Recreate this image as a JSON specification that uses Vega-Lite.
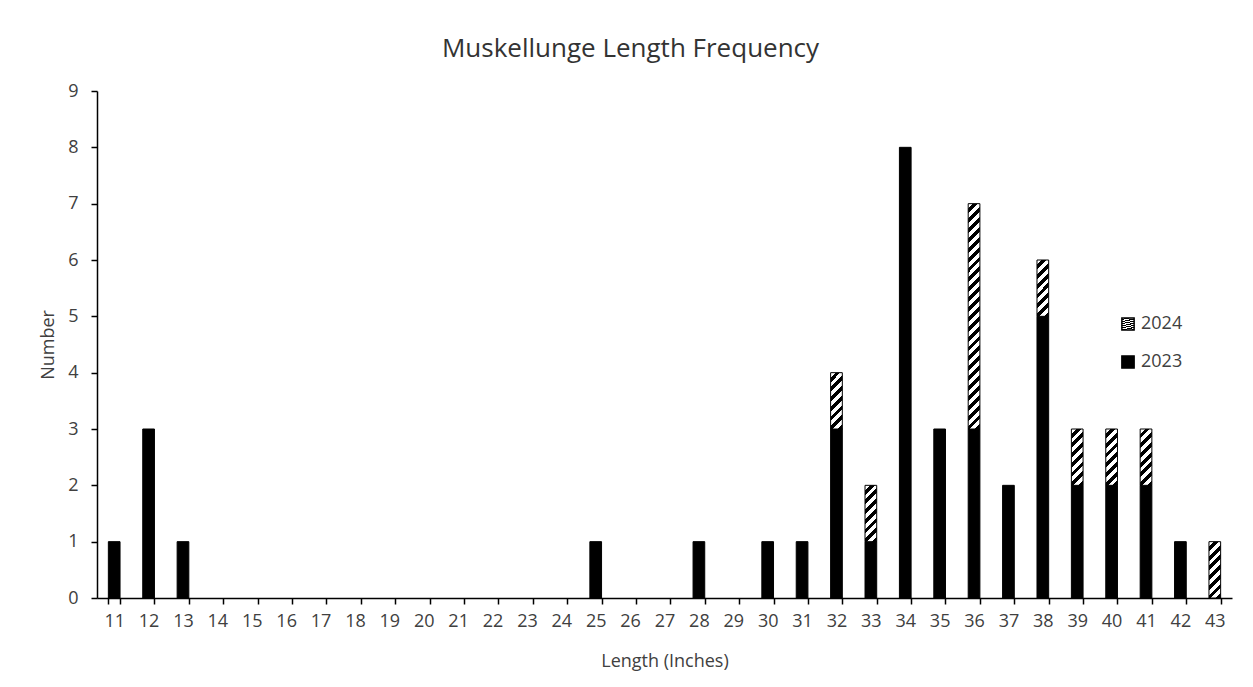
{
  "$schema": "https://vega.github.io/schema/vega-lite/v6.json",
  "autosize": {"type": "none"},
  "width": 1135,
  "height": 507,
  "padding": {"left": 97, "top": 91, "right": 21, "bottom": 89},
  "background": "white",
  "title": {"text": "Muskellunge Length Frequency", "fontSize": 26, "fontWeight": "normal", "color": "#333333", "anchor": "middle", "dx": -34, "offset": 20},
  "data": {
    "values": [
      {"length": 11, "year": "2023", "count": 1},
      {"length": 12, "year": "2023", "count": 3},
      {"length": 13, "year": "2023", "count": 1},
      {"length": 25, "year": "2023", "count": 1},
      {"length": 28, "year": "2023", "count": 1},
      {"length": 30, "year": "2023", "count": 1},
      {"length": 31, "year": "2023", "count": 1},
      {"length": 32, "year": "2023", "count": 3},
      {"length": 32, "year": "2024", "count": 1},
      {"length": 33, "year": "2023", "count": 1},
      {"length": 33, "year": "2024", "count": 1},
      {"length": 34, "year": "2023", "count": 8},
      {"length": 35, "year": "2023", "count": 3},
      {"length": 36, "year": "2023", "count": 3},
      {"length": 36, "year": "2024", "count": 4},
      {"length": 37, "year": "2023", "count": 2},
      {"length": 38, "year": "2023", "count": 5},
      {"length": 38, "year": "2024", "count": 1},
      {"length": 39, "year": "2023", "count": 2},
      {"length": 39, "year": "2024", "count": 1},
      {"length": 40, "year": "2023", "count": 2},
      {"length": 40, "year": "2024", "count": 1},
      {"length": 41, "year": "2023", "count": 2},
      {"length": 41, "year": "2024", "count": 1},
      {"length": 42, "year": "2023", "count": 1},
      {"length": 43, "year": "2024", "count": 1}
    ]
  },
  "mark": {"type": "bar", "stroke": "black", "strokeWidth": 1},
  "encoding": {
    "x": {
      "field": "length", "type": "ordinal",
      "scale": {"domain": [11,12,13,14,15,16,17,18,19,20,21,22,23,24,25,26,27,28,29,30,31,32,33,34,35,36,37,38,39,40,41,42,43], "paddingInner": 0.66, "paddingOuter": 0.33},
      "axis": {"title": "Length (Inches)", "labelAngle": 0, "tickBand": "extent", "tickSize": 6, "labelPadding": 8, "titlePadding": 22}
    },
    "y": {
      "field": "count", "type": "quantitative", "stack": "zero",
      "scale": {"domain": [0, 9], "nice": false},
      "axis": {"title": "Number", "values": [0,1,2,3,4,5,6,7,8,9], "format": "d", "grid": false, "tickSize": 6, "labelPadding": 13, "titlePadding": 10}
    },
    "order": {"field": "year", "sort": "ascending"},
    "fill": {
      "field": "year", "type": "nominal",
      "condition": {
        "test": "datum.year === '2024' && datum.count >= 4",
        "value": {"gradient": "linear", "x1": 0, "y1": 0, "x2": 0.0545, "y2": 1.049, "stops": [
          {"offset":0,"color":"#fff"},{"offset":0.0208,"color":"#fff"},{"offset":0.0208,"color":"#000"},{"offset":0.0417,"color":"#000"},
          {"offset":0.0417,"color":"#fff"},{"offset":0.0625,"color":"#fff"},{"offset":0.0625,"color":"#000"},{"offset":0.0833,"color":"#000"},
          {"offset":0.0833,"color":"#fff"},{"offset":0.1042,"color":"#fff"},{"offset":0.1042,"color":"#000"},{"offset":0.125,"color":"#000"},
          {"offset":0.125,"color":"#fff"},{"offset":0.1458,"color":"#fff"},{"offset":0.1458,"color":"#000"},{"offset":0.1667,"color":"#000"},
          {"offset":0.1667,"color":"#fff"},{"offset":0.1875,"color":"#fff"},{"offset":0.1875,"color":"#000"},{"offset":0.2083,"color":"#000"},
          {"offset":0.2083,"color":"#fff"},{"offset":0.2292,"color":"#fff"},{"offset":0.2292,"color":"#000"},{"offset":0.25,"color":"#000"},
          {"offset":0.25,"color":"#fff"},{"offset":0.2708,"color":"#fff"},{"offset":0.2708,"color":"#000"},{"offset":0.2917,"color":"#000"},
          {"offset":0.2917,"color":"#fff"},{"offset":0.3125,"color":"#fff"},{"offset":0.3125,"color":"#000"},{"offset":0.3333,"color":"#000"},
          {"offset":0.3333,"color":"#fff"},{"offset":0.3542,"color":"#fff"},{"offset":0.3542,"color":"#000"},{"offset":0.375,"color":"#000"},
          {"offset":0.375,"color":"#fff"},{"offset":0.3958,"color":"#fff"},{"offset":0.3958,"color":"#000"},{"offset":0.4167,"color":"#000"},
          {"offset":0.4167,"color":"#fff"},{"offset":0.4375,"color":"#fff"},{"offset":0.4375,"color":"#000"},{"offset":0.4583,"color":"#000"},
          {"offset":0.4583,"color":"#fff"},{"offset":0.4792,"color":"#fff"},{"offset":0.4792,"color":"#000"},{"offset":0.5,"color":"#000"},
          {"offset":0.5,"color":"#fff"},{"offset":0.5208,"color":"#fff"},{"offset":0.5208,"color":"#000"},{"offset":0.5417,"color":"#000"},
          {"offset":0.5417,"color":"#fff"},{"offset":0.5625,"color":"#fff"},{"offset":0.5625,"color":"#000"},{"offset":0.5833,"color":"#000"},
          {"offset":0.5833,"color":"#fff"},{"offset":0.6042,"color":"#fff"},{"offset":0.6042,"color":"#000"},{"offset":0.625,"color":"#000"},
          {"offset":0.625,"color":"#fff"},{"offset":0.6458,"color":"#fff"},{"offset":0.6458,"color":"#000"},{"offset":0.6667,"color":"#000"},
          {"offset":0.6667,"color":"#fff"},{"offset":0.6875,"color":"#fff"},{"offset":0.6875,"color":"#000"},{"offset":0.7083,"color":"#000"},
          {"offset":0.7083,"color":"#fff"},{"offset":0.7292,"color":"#fff"},{"offset":0.7292,"color":"#000"},{"offset":0.75,"color":"#000"},
          {"offset":0.75,"color":"#fff"},{"offset":0.7708,"color":"#fff"},{"offset":0.7708,"color":"#000"},{"offset":0.7917,"color":"#000"},
          {"offset":0.7917,"color":"#fff"},{"offset":0.8125,"color":"#fff"},{"offset":0.8125,"color":"#000"},{"offset":0.8333,"color":"#000"},
          {"offset":0.8333,"color":"#fff"},{"offset":0.8542,"color":"#fff"},{"offset":0.8542,"color":"#000"},{"offset":0.875,"color":"#000"},
          {"offset":0.875,"color":"#fff"},{"offset":0.8958,"color":"#fff"},{"offset":0.8958,"color":"#000"},{"offset":0.9167,"color":"#000"},
          {"offset":0.9167,"color":"#fff"},{"offset":0.9375,"color":"#fff"},{"offset":0.9375,"color":"#000"},{"offset":0.9583,"color":"#000"},
          {"offset":0.9583,"color":"#fff"},{"offset":0.9792,"color":"#fff"},{"offset":0.9792,"color":"#000"},{"offset":1,"color":"#000"}
        ]}
      },
      "scale": {
        "domain": ["2024", "2023"],
        "range": [
          {"expr": "{gradient: 'linear', x1: 0, y1: 0, x2: 0.241, y2: 1.158, stops: [{offset: 0, color: '#fff'}, {offset: 0.0714, color: '#fff'}, {offset: 0.0714, color: '#000'}, {offset: 0.1429, color: '#000'}, {offset: 0.1429, color: '#fff'}, {offset: 0.2143, color: '#fff'}, {offset: 0.2143, color: '#000'}, {offset: 0.2857, color: '#000'}, {offset: 0.2857, color: '#fff'}, {offset: 0.3571, color: '#fff'}, {offset: 0.3571, color: '#000'}, {offset: 0.4286, color: '#000'}, {offset: 0.4286, color: '#fff'}, {offset: 0.5, color: '#fff'}, {offset: 0.5, color: '#000'}, {offset: 0.5714, color: '#000'}, {offset: 0.5714, color: '#fff'}, {offset: 0.6429, color: '#fff'}, {offset: 0.6429, color: '#000'}, {offset: 0.7143, color: '#000'}, {offset: 0.7143, color: '#fff'}, {offset: 0.7857, color: '#fff'}, {offset: 0.7857, color: '#000'}, {offset: 0.8571, color: '#000'}, {offset: 0.8571, color: '#fff'}, {offset: 0.9286, color: '#fff'}, {offset: 0.9286, color: '#000'}, {offset: 1, color: '#000'}]}"},
          "black"
        ]
      },
      "legend": {
        "title": null, "orient": "none", "legendX": 1022, "legendY": 224,
        "symbolType": "square", "symbolSize": 150, "symbolStrokeColor": "black", "symbolStrokeWidth": 1.5,
        "labelFontSize": 18, "labelColor": "#404040", "labelOffset": 4, "rowPadding": 18, "padding": 0
      }
    }
  },
  "config": {
    "font": "Open Sans",
    "view": {"stroke": null},
    "axis": {
      "labelFontSize": 18, "titleFontSize": 18, "titleFontWeight": "normal",
      "labelColor": "#404040", "titleColor": "#404040",
      "domainColor": "black", "tickColor": "black", "domainWidth": 1.5, "tickWidth": 1.5
    }
  }
}
